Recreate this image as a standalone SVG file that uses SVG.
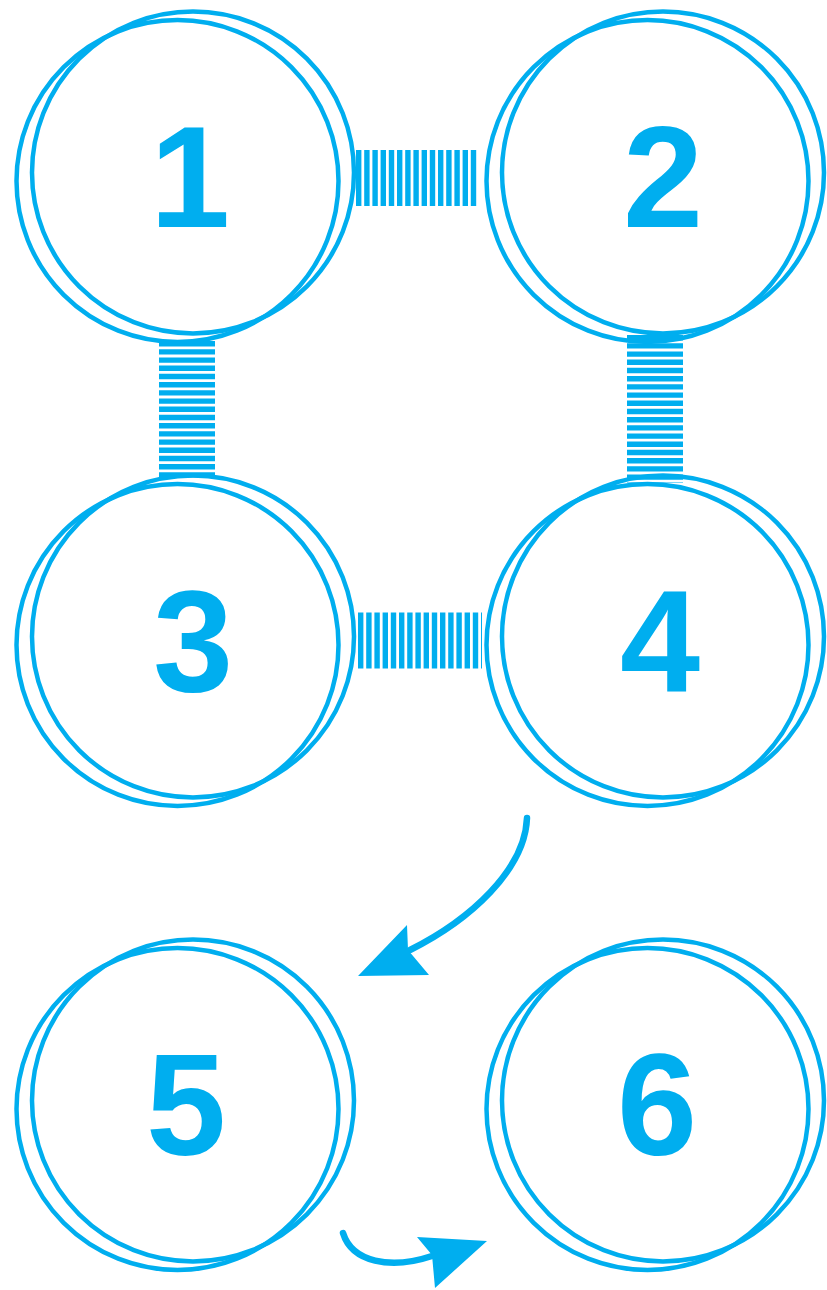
<svg xmlns="http://www.w3.org/2000/svg" width="827" height="1290" viewBox="0 0 827 1290">
  <style>
    .ring { fill: none; stroke: #00AEEF; stroke-width: 4.5; }
    .num { fill: #00AEEF; font-family: "Liberation Sans", Arial, sans-serif; font-weight: bold; font-size: 144px; text-anchor: middle; }
    .ladder { fill: none; stroke: #00AEEF; stroke-width: 56; stroke-dasharray: 5.4 2.8; }
    .curve { fill: none; stroke: #00AEEF; stroke-width: 6.5; stroke-linecap: round; }
    .head { fill: #00AEEF; }
  </style>
  <defs>
    <g id="rings">
      <circle class="ring" cx="193" cy="172.5" r="161"/>
      <circle class="ring" cx="177.5" cy="181" r="161"/>
    </g>
  </defs>
  <g id="connectors">
    <line class="ladder" x1="356" y1="178" x2="478" y2="178"/>
    <line class="ladder" x1="187" y1="341" x2="187" y2="479"/>
    <line class="ladder" x1="655" y1="335" x2="655" y2="483"/>
    <line class="ladder" x1="358" y1="640.5" x2="482" y2="640.5"/>
    <path class="curve" d="M527,818 C525,870 470,920 410,950"/>
    <polygon class="head" points="407,925 408,950 429,975 358,976"/>
    <path class="curve" d="M343,1233 C352,1262 390,1270 432,1256"/>
    <polygon class="head" points="417,1237 487,1241 435,1288 432,1255"/>
  </g>
  <g id="node1">
    <use href="#rings"/>
    <text class="num" x="190" y="227">1</text>
  </g>
  <g id="node2">
    <use href="#rings" x="470"/>
    <text class="num" x="663" y="227">2</text>
  </g>
  <g id="node3">
    <use href="#rings" y="464"/>
    <text class="num" x="193" y="691">3</text>
  </g>
  <g id="node4">
    <use href="#rings" x="470" y="464"/>
    <text class="num" x="660" y="691">4</text>
  </g>
  <g id="node5">
    <use href="#rings" y="928"/>
    <text class="num" x="186" y="1155">5</text>
  </g>
  <g id="node6">
    <use href="#rings" x="470" y="928"/>
    <text class="num" x="657" y="1155">6</text>
  </g>
</svg>
